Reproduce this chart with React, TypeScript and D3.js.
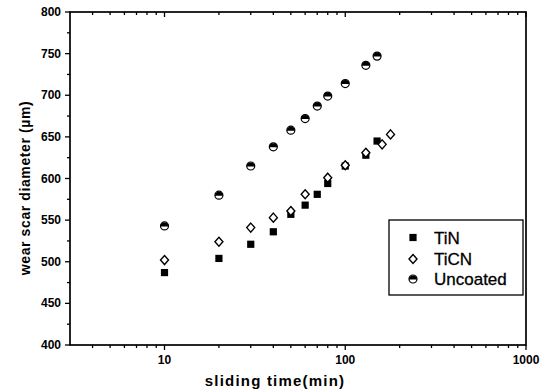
import React, { useEffect, useRef } from 'react';
import * as d3 from 'd3';

const seriesNames = ['TiN', 'TiCN', 'Uncoated'];

const tinTime = [10, 20, 30, 40, 50, 60, 70, 80, 100, 130, 150];
const tinDiameter = [487, 504, 521, 536, 557, 568, 581, 594, 615, 628, 645];

const ticnTime = [10, 20, 30, 40, 50, 60, 80, 100, 130, 160, 178];
const ticnDiameter = [502, 524, 541, 553, 561, 581, 601, 616, 631, 641, 653];

const uncoatedTime = [10, 20, 30, 40, 50, 60, 70, 80, 100, 130, 150];
const uncoatedDiameter = [543, 580, 615, 638, 658, 672, 687, 699, 714, 736, 747];

const xMajorTicks = [10, 100, 1000];
const xMinorTicks = [4, 5, 6, 7, 8, 9, 20, 30, 40, 50, 60, 70, 80, 90, 200, 300, 400, 500, 600, 700, 800, 900];
const yMajorTicks = [400, 450, 500, 550, 600, 650, 700, 750, 800];
const yMinorTicks = [425, 475, 525, 575, 625, 675, 725, 775];

const App = () => {
  const ref = useRef<SVGSVGElement>(null);

  useEffect(() => {
    const svg = d3.select(ref.current);
    svg.selectAll('*').remove();

    const left = 70, right = 526, top = 12, bottom = 345;

    const x = d3.scaleLog().domain([3, 1000]).range([left, right]);
    const y = d3.scaleLinear().domain([400, 800]).range([bottom, top]);

    const font = 'Liberation Sans, Arial, sans-serif';

    // frame
    svg.append('rect')
      .attr('x', left).attr('y', top)
      .attr('width', right - left).attr('height', bottom - top)
      .attr('fill', 'none').attr('stroke', '#000').attr('stroke-width', 1.7);

    // x ticks: bottom outward, top inward
    const xt = svg.append('g').attr('stroke', '#000').attr('stroke-width', 1.3);
    xMajorTicks.forEach(v => {
      xt.append('line').attr('x1', x(v)).attr('x2', x(v)).attr('y1', bottom).attr('y2', bottom + 5);
      xt.append('line').attr('x1', x(v)).attr('x2', x(v)).attr('y1', top).attr('y2', top + 5);
    });
    xMinorTicks.forEach(v => {
      xt.append('line').attr('x1', x(v)).attr('x2', x(v)).attr('y1', bottom).attr('y2', bottom + 3);
      xt.append('line').attr('x1', x(v)).attr('x2', x(v)).attr('y1', top).attr('y2', top + 3);
    });

    svg.append('g').selectAll('text')
      .data(xMajorTicks)
      .enter()
      .append('text')
      .attr('x', d => x(d))
      .attr('y', 364)
      .attr('text-anchor', 'middle')
      .attr('font-family', font)
      .attr('font-weight', 'bold')
      .attr('font-size', 12)
      .text(d => String(d));

    // y ticks: left outward
    const yt = svg.append('g').attr('stroke', '#000').attr('stroke-width', 1.3);
    yMajorTicks.forEach(v => {
      yt.append('line').attr('x1', left - 5).attr('x2', left).attr('y1', y(v)).attr('y2', y(v));
    });
    yMinorTicks.forEach(v => {
      yt.append('line').attr('x1', left - 3).attr('x2', left).attr('y1', y(v)).attr('y2', y(v));
    });

    svg.append('g').selectAll('text')
      .data(yMajorTicks)
      .enter()
      .append('text')
      .attr('x', left - 9)
      .attr('y', d => y(d) + 4)
      .attr('text-anchor', 'end')
      .attr('font-family', font)
      .attr('font-weight', 'bold')
      .attr('font-size', 12)
      .text(d => String(d));

    // axis titles
    svg.append('text')
      .attr('x', 275).attr('y', 386)
      .attr('text-anchor', 'middle')
      .attr('font-family', font)
      .attr('font-weight', 'bold')
      .attr('font-size', 15)
      .attr('letter-spacing', 1.2)
      .text('sliding time(min)');

    svg.append('text')
      .attr('transform', 'translate(30,188) rotate(-90)')
      .attr('text-anchor', 'middle')
      .attr('font-family', font)
      .attr('font-weight', 'bold')
      .attr('font-size', 14)
      .attr('letter-spacing', 0.6)
      .text('wear scar diameter (µm)');

    // markers
    const drawSquare = (g: any, cx: number, cy: number) => {
      g.append('rect')
        .attr('x', cx - 3.6).attr('y', cy - 3.6)
        .attr('width', 7.2).attr('height', 7.2)
        .attr('fill', '#000');
    };
    const drawDiamond = (g: any, cx: number, cy: number) => {
      g.append('path')
        .attr('d', `M${cx},${cy - 4.5}L${cx + 4},${cy}L${cx},${cy + 4.5}L${cx - 4},${cy}Z`)
        .attr('fill', '#fff')
        .attr('stroke', '#000')
        .attr('stroke-width', 1.4);
    };
    const drawHalf = (g: any, cx: number, cy: number) => {
      const r = 4;
      g.append('circle')
        .attr('cx', cx).attr('cy', cy).attr('r', r)
        .attr('fill', '#fff').attr('stroke', '#000').attr('stroke-width', 1.2);
      g.append('path')
        .attr('d', `M${cx - r},${cy + 0.5}A${r},${r} 0 0 1 ${cx + r},${cy + 0.5}Z`)
        .attr('fill', '#000');
    };

    const pts = svg.append('g');
    uncoatedTime.forEach((t, i) => drawHalf(pts, x(t), y(uncoatedDiameter[i])));
    tinTime.forEach((t, i) => drawSquare(pts, x(t), y(tinDiameter[i])));
    ticnTime.forEach((t, i) => drawDiamond(pts, x(t), y(ticnDiameter[i])));

    // legend
    const lg = svg.append('g');
    lg.append('rect')
      .attr('x', 389).attr('y', 220)
      .attr('width', 134).attr('height', 75)
      .attr('fill', '#fff').attr('stroke', '#000').attr('stroke-width', 1.3);
    const drawers = [drawSquare, drawDiamond, drawHalf];
    const rowY = [237.5, 259, 279];
    seriesNames.forEach((name, i) => {
      drawers[i](lg, 413, rowY[i]);
      lg.append('text')
        .attr('x', 434).attr('y', rowY[i] + 6)
        .attr('font-family', font)
        .attr('font-size', 17)
        .attr('stroke', '#000')
        .attr('stroke-width', 0.3)
        .text(name);
    });
  }, []);

  return (
    <svg ref={ref} width={550} height={390}
      style={{ position: 'absolute', left: 0, top: 0, background: '#fff' }} />
  );
};

export default App;
